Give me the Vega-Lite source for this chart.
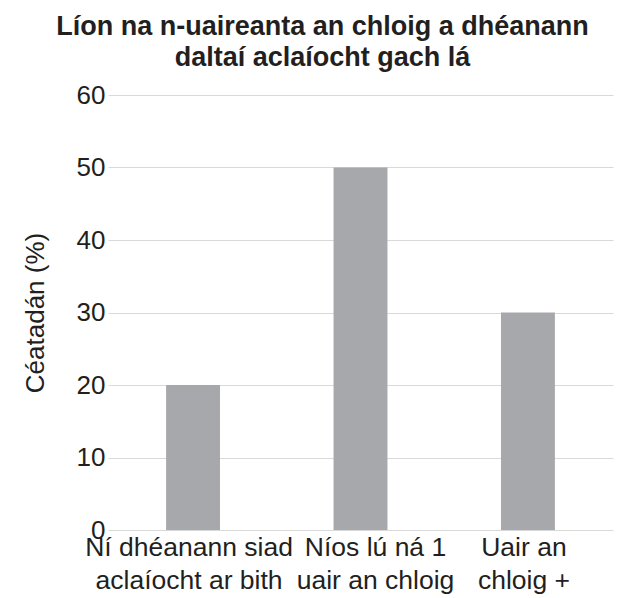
{
  "$schema": "https://vega.github.io/schema/vega-lite/v6.json",
  "width": 505,
  "height": 435,
  "autosize": "none",
  "padding": {"left": 108, "top": 95, "right": 6, "bottom": 68},
  "background": "white",
  "config": {
    "font": "Liberation Sans",
    "view": {"stroke": null}
  },
  "title": {
    "text": ["Líon na n-uaireanta an chloig a dhéanann", "daltaí aclaíocht gach lá"],
    "font": "Liberation Sans",
    "fontSize": 27,
    "fontWeight": "bold",
    "color": "#231f20",
    "anchor": "middle",
    "frame": "group",
    "dx": -38,
    "lineHeight": 31,
    "offset": 10
  },
  "data": {
    "values": [
      {"category": "Ní dhéanann siad|aclaíocht ar bith", "percent": 20},
      {"category": "Níos lú ná 1|uair an chloig", "percent": 50},
      {"category": "Uair an|chloig +", "percent": 30}
    ]
  },
  "mark": {"type": "bar", "color": "#a7a8ab"},
  "encoding": {
    "x": {
      "field": "category",
      "type": "nominal",
      "sort": null,
      "scale": {"paddingInner": 0.678, "paddingOuter": 0.347},
      "axis": {
        "title": null,
        "labelAngle": 0,
        "labelExpr": "split(datum.label, '|')",
        "labelFontSize": 26.5,
        "labelLineHeight": 33,
        "labelPadding": 4,
        "labelColor": "#231f20",
        "labelOffset": {
          "condition": {"test": "datum.value === 'Níos lú ná 1|uair an chloig'", "value": 15},
          "value": -4
        },
        "domain": false,
        "ticks": false,
        "labelLimit": 400
      }
    },
    "y": {
      "field": "percent",
      "type": "quantitative",
      "scale": {"domain": [0, 60]},
      "axis": {
        "title": "Céatadán (%)",
        "titleFontSize": 26,
        "titleFontWeight": "normal",
        "titleColor": "#231f20",
        "titlePadding": 28,
        "values": [0, 10, 20, 30, 40, 50, 60],
        "labelFontSize": 26,
        "labelColor": "#231f20",
        "labelPadding": 3,
        "domain": false,
        "ticks": false,
        "grid": true,
        "gridColor": "#d9d9d9",
        "gridWidth": 1
      }
    }
  }
}
